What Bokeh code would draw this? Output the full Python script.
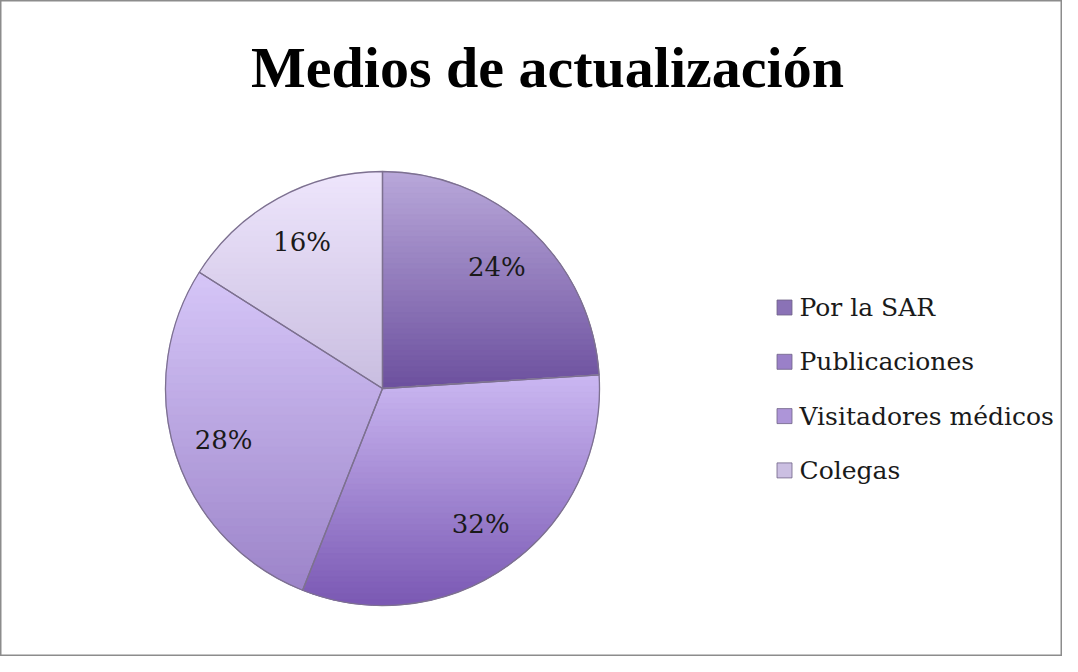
import numpy as np
from bokeh.plotting import figure
from bokeh.models import Range1d, ColumnDataSource
from bokeh.core.properties import value
from bokeh.embed import file_html
from bokeh.resources import INLINE

title = "Medios de actualización"
categories = ["Por la SAR", "Publicaciones", "Visitadores médicos", "Colegas"]
percents = [24, 32, 28, 16]
labels = ["24%", "32%", "28%", "16%"]
colors = ["#9580bd", "#a487d6", "#baa5e3", "#ddd1f0"]
top_colors = ["#b9a8da", "#cbb8f2", "#d6c6f8", "#eee6fc"]
bottom_colors = ["#6c509e", "#7a58b3", "#9c84c9", "#c9bde0"]
legend_colors = ["#8a72b6", "#9a80c8", "#ad95d8", "#cbbfe2"]

W, H = 1062, 656
p = figure(width=W, height=H, output_backend="svg", toolbar_location=None,
           x_range=Range1d(0, W), y_range=Range1d(0, H), min_border=0)
p.axis.visible = False
p.grid.visible = False
p.background_fill_color = "white"
p.border_fill_color = "white"
p.outline_line_color = "#8c8c8c"
p.outline_line_width = 2

cx, cy, R = 382, 268, 217
vals = np.array(percents, dtype=float)
frac = vals / vals.sum()
cum = np.concatenate([[0], np.cumsum(frac)])
start = np.pi / 2 - cum[1:] * 2 * np.pi
end = np.pi / 2 - cum[:-1] * 2 * np.pi
mid = (start + end) / 2

src = ColumnDataSource(dict(x=[cx] * 4, y=[cy] * 4, start=start, end=end,
                            color=colors, cat=categories,
                            lx=cx + 0.77 * R * np.cos(mid),
                            ly=cy + 0.77 * R * np.sin(mid), lab=labels))
p.wedge(x="x", y="y", radius=R, start_angle="start", end_angle="end",
        fill_color="color", line_color=None, source=src)


# vertical gradient inside each slice (bands clipped to the slice shape)
def clip(poly, y0, keep_above):
    out = []
    m = len(poly)
    for i in range(m):
        a, b = poly[i], poly[(i + 1) % m]
        ina = a[1] >= y0 if keep_above else a[1] <= y0
        inb = b[1] >= y0 if keep_above else b[1] <= y0
        if ina:
            out.append(a)
        if ina != inb:
            t = (y0 - a[1]) / (b[1] - a[1])
            out.append((a[0] + t * (b[0] - a[0]), y0))
    return out


def hex2rgb(h):
    return np.array([int(h[i:i + 2], 16) for i in (1, 3, 5)], dtype=float)


gx, gy, gc = [], [], []
for i in range(len(percents)):
    th = np.linspace(end[i], start[i], 80)
    poly = [(cx, cy)] + [(cx + R * np.cos(t), cy + R * np.sin(t)) for t in th]
    ys = [q[1] for q in poly]
    ylo, yhi = min(ys), max(ys)
    nb = 40
    edges = np.linspace(yhi, ylo, nb + 1)
    c0, c1 = hex2rgb(top_colors[i]), hex2rgb(bottom_colors[i])
    for k in range(nb):
        band = clip(clip(poly, edges[k + 1], True), edges[k], False)
        if len(band) < 3:
            continue
        f = (k + 0.5) / nb
        c = c0 + (c1 - c0) * f
        gx.append([q[0] for q in band])
        gy.append([q[1] for q in band])
        gc.append("#%02x%02x%02x" % tuple(int(round(v)) for v in c))
p.patches(xs=gx, ys=gy, fill_color=gc, line_color=gc, line_width=1)

p.wedge(x="x", y="y", radius=R, start_angle="start", end_angle="end",
        fill_alpha=0, line_color="#7d7190", line_width=1.3, source=src)

p.text(x="lx", y="ly", text="lab", source=src, text_align="center",
       text_baseline="middle", text_font=value("DejaVu Serif"),
       text_font_size="26px", text_color="#1a1a1a")

# legend (manual)
n = len(categories)
leg_y = [349 - i * 54.3 for i in range(n)]
p.scatter(x=[784] * n, y=leg_y, marker="square", size=15, fill_color=legend_colors,
          line_color="#6e6286", line_width=0.8)
p.text(x=[799] * n, y=leg_y, text=categories, text_align="left",
       text_baseline="middle", text_font=value("DejaVu Serif"),
       text_font_size="25px", text_color="#1a1a1a")

# title
p.text(x=[547], y=[589], text=[title], text_align="center",
       text_baseline="alphabetic", text_font=value("Liberation Serif"),
       text_font_style="bold", text_font_size="58px", text_color="black")

open("out.html", "w").write(file_html(p, INLINE))
